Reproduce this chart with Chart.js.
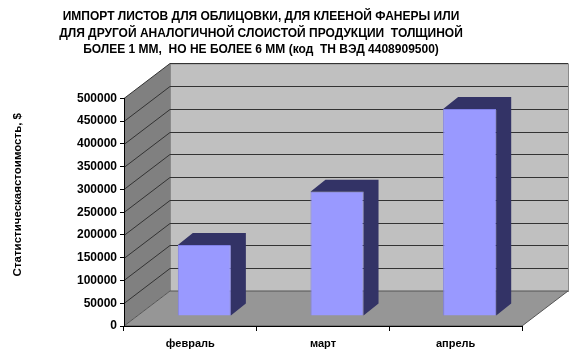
<!DOCTYPE html>
<html>
<head>
<meta charset="utf-8">
<script src="https://cdn.jsdelivr.net/npm/chart.js@4.4.0/dist/chart.umd.min.js"></script>
<style>
  body { margin: 0; background: #fff; }
  #wrap { width: 580px; height: 359px; }
</style>
</head>
<body>
<div id="wrap"><canvas id="chart" width="580" height="359"></canvas></div>
<script>
// данные
const categories = ['февраль', 'март', 'апрель'];
const values = [156000, 273000, 455000];
const yTickValues = [0, 50000, 100000, 150000, 200000, 250000, 300000, 350000, 400000, 450000, 500000];
const titleLines = [
  'ИМПОРТ ЛИСТОВ ДЛЯ ОБЛИЦОВКИ, ДЛЯ КЛЕЕНОЙ ФАНЕРЫ ИЛИ',
  'ДЛЯ ДРУГОЙ АНАЛОГИЧНОЙ СЛОИСТОЙ ПРОДУКЦИИ  ТОЛЩИНОЙ',
  'БОЛЕЕ 1 ММ,  НО НЕ БОЛЕЕ 6 ММ (код  ТН ВЭД 4408909500)'
];
const yTitle = 'Статистическаястоимость, $';

const FONT = 'Arial, "Liberation Sans", sans-serif';
const WALL = { dx: 46, dy: -35 };   // глубина стенок
const BAR = { dx: 14, dy: -10 };    // положение передней грани столбика
const BAR_DEPTH = { dx: 15, dy: -12 };

// стенки, пол и линии сетки в псевдо-3D
const walls = {
  id: 'walls',
  beforeDraw(chart) {
    const { ctx, chartArea: a, scales: { y } } = chart;
    const y0 = y.getPixelForValue(yTickValues[0]);
    const yT = y.getPixelForValue(yTickValues[yTickValues.length - 1]);
    ctx.save();
    // боковая стенка
    ctx.fillStyle = '#808080';
    ctx.beginPath();
    ctx.moveTo(a.left, y0);
    ctx.lineTo(a.left, yT);
    ctx.lineTo(a.left + WALL.dx, yT + WALL.dy);
    ctx.lineTo(a.left + WALL.dx, y0 + WALL.dy);
    ctx.closePath();
    ctx.fill();
    // задняя стенка
    ctx.fillStyle = '#c0c0c0';
    ctx.fillRect(a.left + WALL.dx, yT + WALL.dy, a.right - a.left, y0 - yT);
    ctx.strokeStyle = '#8a8a8a';
    ctx.lineWidth = 1;
    ctx.strokeRect(a.left + WALL.dx + 0.5, yT + WALL.dy + 0.5, a.right - a.left, y0 - yT);
    // пол
    ctx.fillStyle = '#969696';
    ctx.beginPath();
    ctx.moveTo(a.left, y0);
    ctx.lineTo(a.right, y0);
    ctx.lineTo(a.right + WALL.dx, y0 + WALL.dy);
    ctx.lineTo(a.left + WALL.dx, y0 + WALL.dy);
    ctx.closePath();
    ctx.fill();
    ctx.strokeStyle = '#555';
    ctx.stroke();
    // сетка
    ctx.strokeStyle = '#333';
    ctx.lineWidth = 1;
    yTickValues.slice(1).forEach(v => {
      const py = Math.round(y.getPixelForValue(v)) + 0.5;
      ctx.beginPath();
      ctx.moveTo(a.left, py);
      ctx.lineTo(a.left + WALL.dx, py + WALL.dy);
      ctx.lineTo(a.right + WALL.dx, py + WALL.dy);
      ctx.stroke();
    });
    // подпись оси Y
    ctx.fillStyle = '#000';
    ctx.font = 'bold 11.5px ' + FONT;
    ctx.textAlign = 'center';
    ctx.textBaseline = 'middle';
    ctx.translate(18, (yT + WALL.dy + y0) / 2);
    ctx.rotate(-Math.PI / 2);
    ctx.fillText(yTitle, 0, 0);
    ctx.restore();
  }
};

// объёмные столбики
const bars3d = {
  id: 'bars3d',
  beforeDatasetsDraw(chart) {
    chart.ctx.save();
    chart.ctx.translate(BAR.dx, BAR.dy);
  },
  afterDatasetsDraw(chart) {
    const ctx = chart.ctx;
    ctx.fillStyle = '#333366';
    chart.getDatasetMeta(0).data.forEach(bar => {
      const { x, y, base, width } = bar.getProps(['x', 'y', 'base', 'width'], true);
      const l = x - width / 2, r = x + width / 2;
      ctx.beginPath();
      ctx.moveTo(l, y);
      ctx.lineTo(l + BAR_DEPTH.dx, y + BAR_DEPTH.dy);
      ctx.lineTo(r + BAR_DEPTH.dx, y + BAR_DEPTH.dy);
      ctx.lineTo(r + BAR_DEPTH.dx, base + BAR_DEPTH.dy);
      ctx.lineTo(r, base);
      ctx.lineTo(r, y);
      ctx.closePath();
      ctx.fill();
    });
    ctx.restore();
  }
};

new Chart(document.getElementById('chart'), {
  type: 'bar',
  data: {
    labels: categories,
    datasets: [{
      data: values,
      backgroundColor: '#9999ff',
      borderColor: '#8080e6',
      borderWidth: 1,
      barPercentage: 0.4,
      categoryPercentage: 1,
      clip: false
    }]
  },
  options: {
    responsive: false,
    animation: false,
    layout: { padding: { left: 0, right: 58, top: 0, bottom: 0 } },
    plugins: {
      legend: { display: false },
      tooltip: { enabled: false },
      title: {
        display: true,
        text: titleLines,
        color: '#000',
        font: { family: FONT, size: 12, weight: 'bold', lineHeight: 1.4 },
        padding: { top: 8, bottom: 40 }
      }
    },
    scales: {
      x: {
        grid: { drawOnChartArea: false, drawTicks: true, tickLength: 5, color: '#000' },
        border: { color: '#000' },
        ticks: { color: '#000', padding: 6, font: { family: FONT, size: 11, weight: 'bold' } },
        afterFit(scale) { scale.height = 33; }
      },
      y: {
        min: 0,
        max: 500000,
        afterBuildTicks(scale) { scale.ticks = yTickValues.map(v => ({ value: v })); },
        grid: { drawOnChartArea: false, drawTicks: true, tickLength: 4, color: '#000' },
        border: { color: '#000' },
        ticks: {
          color: '#000',
          padding: 3,
          font: { family: FONT, size: 12, weight: 'bold' },
          callback: v => String(v)
        },
        afterFit(scale) { scale.width = 124; }
      }
    }
  },
  plugins: [walls, bars3d]
});
</script>
</body>
</html>
